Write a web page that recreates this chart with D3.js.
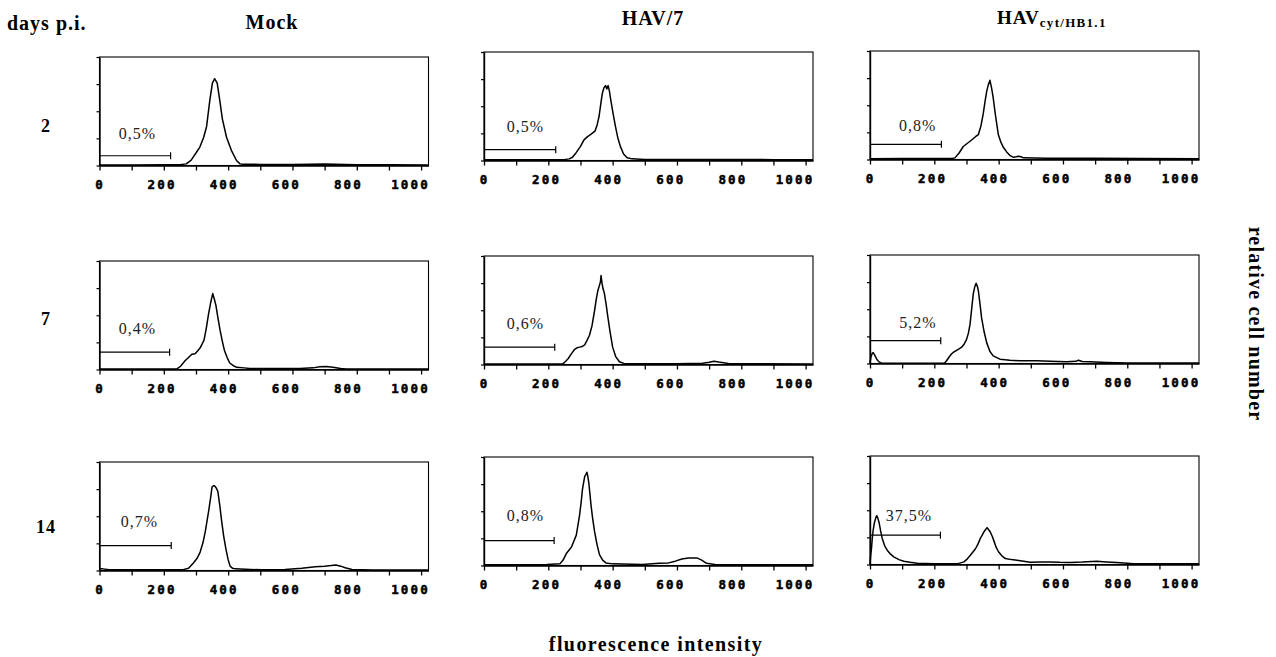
<!DOCTYPE html>
<html>
<head>
<meta charset="utf-8">
<script src="https://cdn.jsdelivr.net/npm/d3@7"></script>
<style>
  html, body { margin: 0; padding: 0; background: #fff; }
  svg { display: block; }
</style>
</head>
<body>
<svg id="chart" width="1276" height="657"></svg>
<script>
// ---------------- DATA ----------------
const groups = ["Mock", "HAV/7", "HAVcyt/HB1.1"];
const days = ["2", "7", "14"];
const xTicks = [0, 100, 200, 300, 400, 500, 600, 700, 800, 900, 1000];
const xTickLabels = [0, 200, 400, 600, 800, 1000];
const yTicks = [0, 25, 50, 75, 100];

// histograms: [fluorescence channel, relative cell number (0-100)]
const mockD2 = [[0,0.5],[100,0.5],[200,0.6],[250,0.8],[270,1.5],[285,5],[301,12],[312,17],[324,26],[333,36],[343,60],[351,76],[358,80],[366,76],[374,60],[382,43],[395,26],[410,14],[426,4.6],[437,1.5],[445,1.2],[500,1],[600,1],[700,1.3],[800,0.8],[900,0.6],[1023,0.5]];
const hav7D2 = [[0,0.8],[150,0.6],[250,0.8],[265,1.5],[275,3],[286,7],[300,13],[311,19],[322,22],[332,24],[345,27],[352,33],[358,41],[363,52],[368,62],[373,67],[378,69],[382,66],[386,69],[390,64],[394,56],[401,44],[409,31],[416,21],[424,13],[434,6],[445,2.5],[460,1.5],[500,1],[600,1],[700,0.9],[800,1],[900,0.8],[1023,0.8]];
const havcytD2 = [[0,0.8],[100,1],[200,1],[255,1],[264,1.5],[277,6],[290,12],[303,15],[316,18],[328,21],[337,23],[345,31],[352,42],[358,54],[363,63],[368,69],[373,73],[378,66],[383,57],[390,41],[399,23],[407,16],[415,11],[425,7],[436,3.5],[446,2],[455,2.5],[461,3],[470,2.5],[477,1.5],[550,1.2],[700,1.2],[850,1],[1023,0.8]];

const mockD7 = [[0,0.5],[100,0.4],[200,0.4],[241,0.5],[252,3],[266,8],[280,12],[287,14],[297,14.5],[305,17],[313,20],[325,27],[332,38],[339,51],[346,62],[352,70],[357,65],[362,59],[368,48],[375,36],[382,26],[389,17],[397,11],[405,6],[416,3.5],[427,2],[450,1.5],[467,1],[550,1],[623,1],[664,1.5],[685,2.5],[705,2.8],[726,2],[750,1],[768,0.5],[900,0.4],[1023,0.4]];
const hav7D7 = [[0,0.5],[150,0.5],[246,0.8],[254,3],[262,5.5],[272,10],[282,14],[290,15.5],[297,16],[305,16.5],[313,18],[320,22],[328,27],[336,36],[344,50],[349,60],[354,68],[358,72],[362,76],[364,82],[367,75],[370,70],[374,66],[380,55],[385,44],[392,30],[400,16],[410,7],[421,2.5],[435,1],[500,0.8],[600,0.8],[680,1.2],[700,2],[715,3],[730,2.2],[760,1],[850,0.6],[1023,0.5]];
const havcytD7 = [[0,0.5],[3,6],[7,9.5],[10,10],[15,7.5],[21,4],[28,1.5],[35,0.5],[100,0.3],[200,0.3],[232,0.5],[238,2.5],[246,6],[254,9],[262,11],[269,12],[277,13.5],[285,15],[293,18],[300,22],[306,28],[311,36],[316,50],[321,64],[326,71],[330,74],[334,71],[337,67],[342,55],[347,42],[355,29],[363,19],[373,11],[383,7],[404,4],[435,3],[466,2.5],[518,2.5],[560,2],[611,1.5],[640,2],[648,3],[660,1.8],[684,1.5],[736,1],[800,0.5],[1023,0.4]];

const mockD14 = [[0,1.5],[10,1.5],[30,0.8],[100,0.6],[200,0.6],[260,0.8],[277,2],[292,7],[303,11],[313,17],[322,26],[329,36],[334,45],[339,54],[345,66],[350,77],[354,78],[358,78],[363,76],[368,73],[374,60],[380,45],[386,32],[393,20],[400,10],[406,4],[414,2],[422,1.5],[505,0.6],[577,1],[629,2],[671,3.5],[700,4],[720,4.5],[735,5],[750,4],[764,2.5],[785,1],[850,0.5],[1023,0.5]];
const hav7D14 = [[0,0.6],[100,0.7],[195,1],[236,1.5],[246,5],[256,11],[272,17],[287,28],[297,46],[302,58],[306,70],[313,82],[317,84],[320,86],[323,82],[326,76],[333,55],[338,43],[344,31],[351,20],[359,10],[369,5],[379,2.4],[400,1.5],[492,1],[544,2],[574,2.4],[595,4],[615,6],[636,7],[662,7],[677,5],[692,2],[718,1],[850,0.7],[1023,0.6]];
const havcytD14 = [[0,0],[2,8],[5,16],[7,24],[10,32],[14,39],[18,43],[21,45],[24,43],[28,39],[33,31],[38,24],[46,17],[54,13],[64,9.5],[74,7],[90,4.5],[105,3],[125,2],[147,1.2],[198,0.6],[271,0.6],[292,2.4],[302,5],[312,8.5],[320,11.5],[328,14.5],[336,19],[343,24],[349,27],[354,30],[359,32],[364,34],[369,32],[374,30],[380,26],[385,22],[392,16],[400,11.5],[410,8],[421,5.5],[440,4.5],[457,4],[478,3],[498,2],[530,2.2],[560,2.4],[590,2],[622,1.8],[660,2.2],[705,3],[735,2.4],[767,1.8],[800,1.2],[819,0.6],[1023,0.6]];

const histograms = [
  [mockD2, hav7D2, havcytD2],
  [mockD7, hav7D7, havcytD7],
  [mockD14, hav7D14, havcytD14]
];

// gate markers (percent of cells below channel gateEnd)
const gatePct   = [["0,5%","0,5%","0,8%"],["0,4%","0,6%","5,2%"],["0,7%","0,8%","37,5%"]];
const gateEnd   = [[221,223,222],[218,220,220],[223,218,219]];
const gateLevel = [[9,10,14],[16,16,21],[23,23,27]];
const gateLabelX = [[118,129,148],[118,129,149],[124,129,121]];
const gateLabelY = [[24,26,26],[33,33,33],[40,41,40]];

// ---------------- LAYOUT ----------------
const svg = d3.select("#chart");
const colLeft = [99.5, 484, 870];
const colDy = [5, 0, -1];
const rowTop = [52, 256, 457];
const pw = 329, ph = 108.5;
const serif = "'Liberation Serif', 'Times New Roman', serif";
const mono = "'DejaVu Sans Mono', 'Liberation Mono', monospace";

// headers
svg.append("text").attr("x", 7).attr("y", 30)
  .attr("font-family", serif).attr("font-weight", "bold").attr("font-size", 20)
  .attr("letter-spacing", 1).text("days p.i.");

const headX = [272, 653, null];
const headY = [29, 25, 24];
svg.append("text").attr("x", headX[0]).attr("y", headY[0]).attr("text-anchor", "middle")
  .attr("font-family", serif).attr("font-weight", "bold").attr("font-size", 20)
  .attr("letter-spacing", 1).text(groups[0]);
svg.append("text").attr("x", headX[1]).attr("y", headY[1]).attr("text-anchor", "middle")
  .attr("font-family", serif).attr("font-weight", "bold").attr("font-size", 20)
  .attr("letter-spacing", 1).text(groups[1]);
const h3 = svg.append("text").attr("x", 997).attr("y", headY[2])
  .attr("font-family", serif).attr("font-weight", "bold").attr("font-size", 19)
  .attr("letter-spacing", 1);
h3.append("tspan").text(groups[2].slice(0, 3));
h3.append("tspan").attr("font-size", 13).attr("dy", 3).attr("letter-spacing", 1.3)
  .text(groups[2].slice(3));

// row labels
const rowLabelY = [132, 325, 533];
days.forEach((d, i) => {
  svg.append("text").attr("x", 46).attr("y", rowLabelY[i]).attr("text-anchor", "middle")
    .attr("font-family", serif).attr("font-weight", "bold").attr("font-size", 18)
    .attr("letter-spacing", 1).text(d);
});

// axis titles
svg.append("text").attr("transform", "translate(1249,324) rotate(90)")
  .attr("text-anchor", "middle")
  .attr("font-family", serif).attr("font-weight", "bold").attr("font-size", 20)
  .attr("letter-spacing", 1.2).text("relative cell number");
svg.append("text").attr("x", 656).attr("y", 651).attr("text-anchor", "middle")
  .attr("font-family", serif).attr("font-weight", "bold").attr("font-size", 20)
  .attr("letter-spacing", 1.4).text("fluorescence intensity");

// panels
histograms.forEach((row, r) => {
  row.forEach((data, c) => {
    const left = colLeft[c];
    const top = rowTop[r] + colDy[c];
    const bottom = top + ph;
    const x = d3.scaleLinear().domain([0, 1023]).range([left, left + pw]);
    const y = d3.scaleLinear().domain([0, 100]).range([bottom, top]);
    const g = svg.append("g");

    // frame
    g.append("rect").attr("x", left).attr("y", top).attr("width", pw).attr("height", ph)
      .attr("fill", "none").attr("stroke", "#000").attr("stroke-width", 1.1);

    // x ticks
    const xa = g.append("g").attr("transform", `translate(0,${bottom})`)
      .call(d3.axisBottom(x).tickValues(xTicks).tickSize(5).tickSizeOuter(0).tickFormat(""));
    xa.select(".domain").attr("stroke-width", 1.4);
    xa.selectAll(".tick line").attr("stroke-width", 1.3);

    // y ticks
    const ya = g.append("g").attr("transform", `translate(${left},0)`)
      .call(d3.axisLeft(y).tickValues(yTicks).tickSize(3).tickSizeOuter(0).tickFormat(""));
    ya.select(".domain").attr("stroke-width", 1.4);
    ya.selectAll(".tick line").attr("stroke-width", 1.2);

    // x tick labels
    g.selectAll("text.xl").data(xTickLabels).enter().append("text")
      .attr("class", "xl")
      .attr("x", v => x(v) + 0.5 - v * 0.011)
      .attr("y", bottom + 23)
      .attr("text-anchor", "middle")
      .attr("font-family", mono).attr("font-weight", "bold").attr("font-size", 12.5)
      .attr("letter-spacing", 2.2)
      .attr("stroke", "#000").attr("stroke-width", 0.5)
      .text(v => String(v));

    // histogram
    const line = d3.line().x(d => x(d[0])).y(d => y(d[1]));
    g.append("path").datum(data).attr("d", line)
      .attr("fill", "none").attr("stroke", "#000").attr("stroke-width", 1.5)
      .attr("stroke-linejoin", "round");

    // gate
    const gy = y(gateLevel[r][c]);
    g.append("line").attr("x1", x(0)).attr("x2", x(gateEnd[r][c]))
      .attr("y1", gy).attr("y2", gy).attr("stroke", "#000").attr("stroke-width", 1.2);
    g.append("line").attr("x1", x(gateEnd[r][c])).attr("x2", x(gateEnd[r][c]))
      .attr("y1", gy - 3.5).attr("y2", gy + 3.5).attr("stroke", "#000").attr("stroke-width", 1.2);
    g.append("text").attr("x", x(gateLabelX[r][c])).attr("y", y(gateLabelY[r][c]))
      .attr("text-anchor", "middle")
      .attr("font-family", serif).attr("font-size", 16).attr("letter-spacing", 1)
      .attr("fill", "#222").text(gatePct[r][c]);
  });
});
</script>
</body>
</html>
